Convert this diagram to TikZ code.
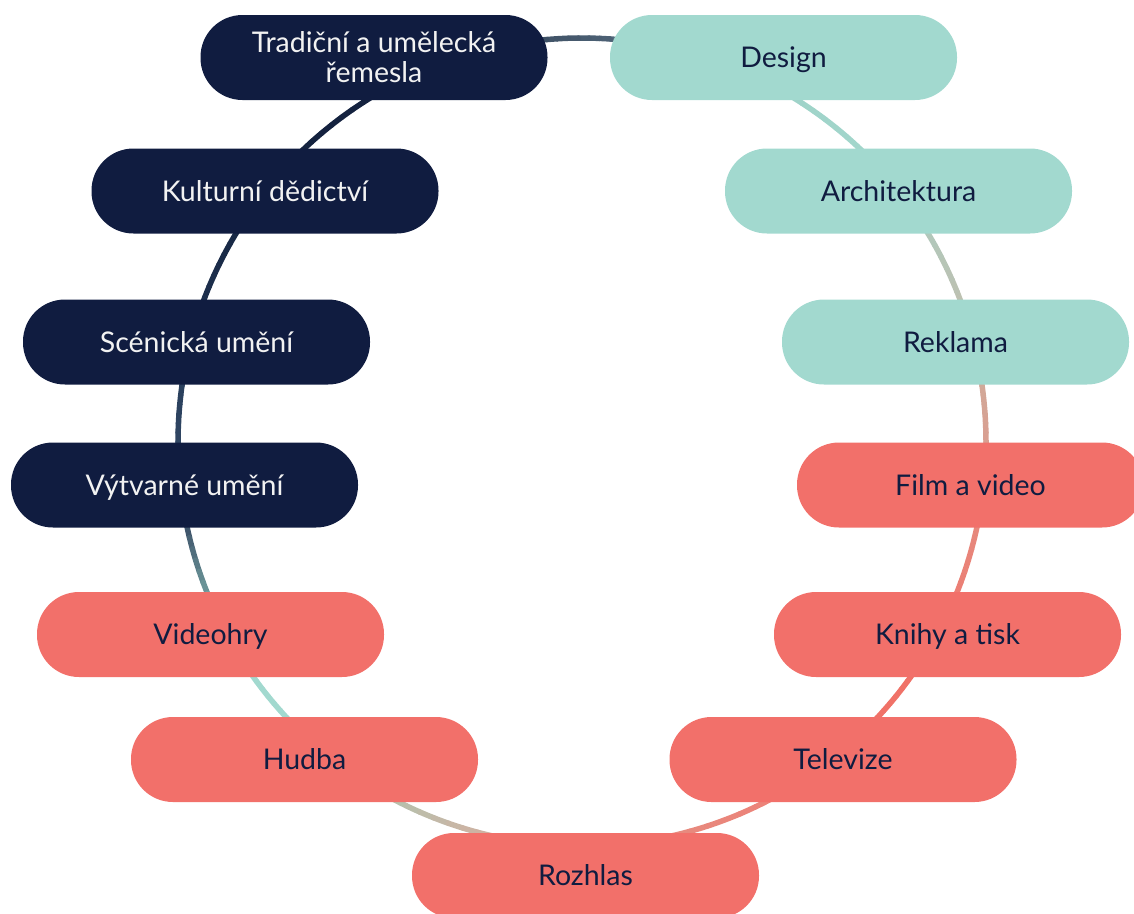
\documentclass[tikz,border=0pt]{standalone}
\usepackage{fontspec}
\setmainfont{Lato}
\usepackage{tikz}
\usetikzlibrary{calc}
\usepackage{xcolor}
\definecolor{Navy}{HTML}{101C40}
\definecolor{Mint}{HTML}{A2D9CF}
\definecolor{Coral}{HTML}{F2706A}
\definecolor{OffWhite}{HTML}{F2F2F2}
% colour stops along the ring
\definecolor{s01}{HTML}{A2D9CF}
\definecolor{s02}{HTML}{A2D9CF}
\definecolor{s03}{HTML}{B5C2AE}
\definecolor{s04}{HTML}{CDB3A3}
\definecolor{s05}{HTML}{DCA191}
\definecolor{s06}{HTML}{E78B7E}
\definecolor{s07}{HTML}{EC8278}
\definecolor{s08}{HTML}{F07268}
\definecolor{s09}{HTML}{F07268}
\definecolor{s10}{HTML}{EC7E74}
\definecolor{s11}{HTML}{E6897D}
\definecolor{s12}{HTML}{DA9E90}
\definecolor{s13}{HTML}{D2A898}
\definecolor{s14}{HTML}{BEC0B0}
\definecolor{s15}{HTML}{B2C8BB}
\definecolor{s16}{HTML}{A2D6CB}
\definecolor{s17}{HTML}{9FD3C9}
\definecolor{s18}{HTML}{4D6175}
\definecolor{s19}{HTML}{415468}
\definecolor{s20}{HTML}{14223F}
\definecolor{s21}{HTML}{14223F}
\definecolor{s22}{HTML}{182945}
\definecolor{s23}{HTML}{1D2F4D}
\definecolor{s24}{HTML}{2A405D}
\definecolor{s25}{HTML}{2F4562}
\definecolor{s26}{HTML}{3C5068}
\definecolor{s27}{HTML}{6F9A9C}
\definecolor{s28}{HTML}{A2D9CF}
\tikzset{%
  topic/.style={%
    rectangle,%
    rounded corners=42pt,%
    minimum width=347pt,%
    minimum height=85pt,%
    inner sep=0pt,%
    text height=20.5pt,%
    text depth=0pt,%
    align=center,%
    font={\fontsize{28.5}{30}\selectfont},%
  },
  topic_dark/.style={%
    topic,%
    fill=Navy,%
    text=OffWhite,%
  },
  topic_mint/.style={%
    topic,%
    fill=Mint,%
    text=Navy,%
  },
  topic_coral/.style={%
    topic,%
    fill=Coral,%
    text=Navy,%
  },
  ring_path/.style={%
    line width=5.5pt,%
    line cap=round,%
  },
}
\begin{document}
\begin{tikzpicture}[x=1pt, y=1pt]

    \useasboundingbox (0,0) rectangle (1134,-913);

    \coordinate (Hub) at (582,-442);

    % ring, drawn in short pieces so that its colour can drift
    \foreach \a/\ca/\b/\cb in {%
      -145/s01/-137/s02, -137/s02/-118/s03, -118/s03/-105/s04,
      -105/s04/-90/s05, -90/s05/-77/s06, -77/s06/-62/s07,
      -62/s07/-43/s08, -43/s08/-35/s09, -35/s09/-22/s10,
      -22/s10/-12/s11, -12/s11/0/s12, 0/s12/8/s13,
      8/s13/20/s14, 20/s14/31/s15, 31/s15/47/s16,
      47/s16/59/s17, 59/s17/86/s18, 86/s18/95/s19,
      95/s19/121/s20, 121/s20/132/s21, 132/s21/149/s22,
      149/s22/159/s23, 159/s23/172/s24, 172/s24/180/s25,
      180/s25/192/s26, 192/s26/202/s27, 202/s27/215/s28} {
      \foreach \i in {0,...,5} {
        \pgfmathsetmacro\sa{\a+(\b-\a)*\i/6}
        \pgfmathsetmacro\sb{\a+(\b-\a)*(\i+1)/6}
        \pgfmathtruncatemacro\mixp{100*(\i+0.5)/6}
        \draw [ring_path, draw=\cb!\mixp!\ca]
          ($(Hub)+(\sa:404)$) arc [start angle=\sa, end angle=\sb, radius=404];
      }
    }

    \node [topic_dark, text height=, text depth=] (Tradicni) at (374,-57.5)
      {Tradiční a umělecká\\řemesla};
    \node [topic_mint] (Design) at (783.5,-57.5) {Design};
    \node [topic_mint] (Architektura) at (898.5,-191) {Architektura};
    \node [topic_mint] (Reklama) at (955.5,-342) {Reklama};
    \node [topic_coral] (Film) at (970.5,-485) {Film a video};
    \node [topic_coral] (Knihy) at (947.5,-634.5) {Knihy a tisk};
    \node [topic_coral] (Televize) at (843,-759.5) {Televize};
    \node [topic_coral] (Rozhlas) at (585.5,-875.5) {Rozhlas};
    \node [topic_coral] (Hudba) at (304.5,-759.5) {Hudba};
    \node [topic_coral] (Videohry) at (210.5,-634.5) {Videohry};
    \node [topic_dark] (Vytvarne) at (184.5,-485) {Výtvarné umění};
    \node [topic_dark] (Scenicka) at (196.5,-342) {Scénická umění};
    \node [topic_dark] (Kulturni) at (265,-191) {Kulturní dědictví};

  \end{tikzpicture}
\end{document}
